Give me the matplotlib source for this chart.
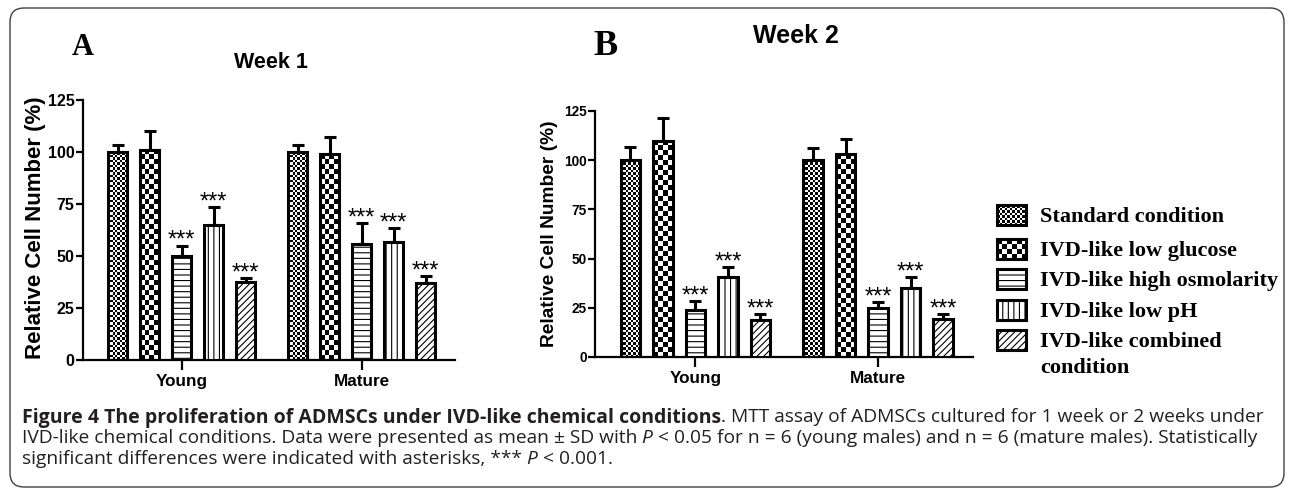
import matplotlib
matplotlib.use('Agg')
import matplotlib.pyplot as plt
import numpy as np
from matplotlib.patches import Rectangle, FancyBboxPatch

# Figure size in pixels
W, H = 1292, 488
DPI = 100

# Values (relative cell number, %), mean and upper SD
groups = ['Young', 'Mature']
conditions = ['Standard condition', 'IVD-like low glucose', 'IVD-like high osmolarity',
              'IVD-like low pH', 'IVD-like combined\ncondition']
week1_young = [100, 101, 50, 65, 37.5]
week1_young_sd = [3.5, 9, 5, 8.5, 2]
week1_mature = [100, 99, 56, 56.5, 37]
week1_mature_sd = [3.5, 8, 10, 7, 3.5]
week2_young = [100, 110, 24, 40.5, 19]
week2_young_sd = [6.5, 11.5, 4.5, 5, 3]
week2_mature = [100, 103, 25, 35, 19.5]
week2_mature_sd = [6, 8, 3, 5.5, 2.5]
significant = [False, False, True, True, True]
yticks = [0, 25, 50, 75, 100, 125]

# Fill of each condition: checker cell size in pixels, or a hatch string
PATTERNS = [('checker', 2.5), ('checker', 5.0), ('hatch', '---'), ('hatch', '|||'), ('hatch', '/////')]

BAR_W = 0.105
PITCH = 0.178
LW = 2.2
SERIF = 'Liberation Serif'

plt.rcParams['font.family'] = 'Liberation Sans'
plt.rcParams['hatch.linewidth'] = 0.8

fig = plt.figure(figsize=(W / DPI, H / DPI), dpi=DPI)


# Helpers to place things using pixel positions measured from the top left
def fx(x):
  return x / W

def fy(y):
  return 1 - y / H

def checker(nrows, ncols):
  return np.indices((nrows, ncols)).sum(axis=0) % 2


def draw_panel(rect, young, young_sd, mature, mature_sd, ytick_size):
  left, top, width, height = rect
  ax = fig.add_axes([fx(left), fy(top + height), width / W, height / H])
  ax.set_xlim(-0.55, 1.52)
  ax.set_ylim(0, 125)

  for k in range(len(conditions)):
    xs = np.arange(len(groups)) + (k - 2) * PITCH
    means = np.array([young[k], mature[k]])
    sds = np.array([young_sd[k], mature_sd[k]])
    kind, style = PATTERNS[k]
    hatch = style if kind == 'hatch' else None
    face = 'white' if kind == 'hatch' else 'none'
    bars = ax.bar(xs, means, BAR_W, facecolor=face, edgecolor='black', linewidth=LW,
                  hatch=hatch, zorder=3)
    ax.errorbar(xs, means, yerr=[np.zeros_like(sds), sds], fmt='none', ecolor='black',
                elinewidth=LW, capsize=4.5, capthick=LW, zorder=2)

    # The checker fills are drawn as small images under the bar outline
    if kind == 'checker':
      for bar in bars:
        x0, y0 = bar.get_x(), bar.get_y()
        x1, y1 = x0 + bar.get_width(), y0 + bar.get_height()
        (p0x, p0y), (p1x, p1y) = ax.transData.transform([(x0, y0), (x1, y1)])
        ncols = max(1, int(round((p1x - p0x) / style)))
        nrows = max(1, int(round((p1y - p0y) / style)))
        ax.imshow(checker(nrows, ncols), cmap='gray', vmin=0, vmax=1,
                  extent=[x0, x1, y0, y1], origin='lower', aspect='auto',
                  interpolation='nearest', zorder=2.5)

    if significant[k]:
      for x, top_value in zip(xs, means + sds):
        ax.annotate('***', (x, top_value), xytext=(0, -1), textcoords='offset points',
                    ha='center', va='baseline', fontsize=17)

  ax.set_xlim(-0.55, 1.52)
  ax.set_ylim(0, 125)
  for side in ['top', 'right']:
    ax.spines[side].set_visible(False)
  for side in ['left', 'bottom']:
    ax.spines[side].set_linewidth(1.6)
  ax.set_yticks(yticks)
  ax.set_yticklabels([str(t) for t in yticks], fontweight='bold', fontsize=ytick_size)
  ax.set_xticks(range(len(groups)))
  ax.set_xticklabels(groups, fontweight='bold', fontsize=12.3)
  ax.tick_params(axis='y', length=5, width=1.6, pad=1)
  ax.tick_params(axis='x', length=7, width=1.6, pad=3)
  return ax


# Panel A (week 1) and panel B (week 2)
draw_panel((83, 100, 372, 260), week1_young, week1_young_sd, week1_mature, week1_mature_sd, 11.5)
draw_panel((595, 111, 378, 246), week2_young, week2_young_sd, week2_mature, week2_mature_sd, 9.8)

fig.text(fx(72), fy(55), 'A', family=SERIF, weight='bold', fontsize=22, va='baseline')
fig.text(fx(593), fy(55), 'B', family=SERIF, weight='bold', fontsize=26, va='baseline')
fig.text(fx(271), fy(68), 'Week 1', weight='bold', fontsize=15.5, ha='center', va='baseline')
fig.text(fx(796), fy(43), 'Week 2', weight='bold', fontsize=18, ha='center', va='baseline')
fig.text(fx(36), fy(228), 'Relative Cell Number (%)', weight='bold', fontsize=16,
         rotation=90, ha='center', va='center')
fig.text(fx(550), fy(234), 'Relative Cell Number (%)', weight='bold', fontsize=13.8,
         rotation=90, ha='center', va='center')

# Legend, drawn by hand so the checker keys match the bars
key_centres = [215, 249, 279, 310, 340]
for k, label in enumerate(conditions):
  kind, style = PATTERNS[k]
  c = key_centres[k]
  if kind == 'checker':
    i, j = np.indices((20, 29))
    cells = (np.floor(i / style) + np.floor(j / style)) % 2
    fig.figimage(cells, xo=997, yo=H - (c + 10), cmap='gray', vmin=0, vmax=1, zorder=4)
    key = Rectangle((fx(997), fy(c + 10)), 29 / W, 20 / H, transform=fig.transFigure,
                    facecolor='none', edgecolor='black', linewidth=LW, zorder=5)
  else:
    key = Rectangle((fx(997), fy(c + 10)), 29 / W, 20 / H, transform=fig.transFigure,
                    facecolor='white', edgecolor='black', linewidth=LW, hatch=style, zorder=5)
  fig.add_artist(key)
  for n, line in enumerate(label.split('\n')):
    fig.text(fx(1040), fy(c + 7 + 26 * n), line, family=SERIF, weight='bold', fontsize=16,
             va='baseline')

# Caption, with bold and italic runs placed one after the other
caption = [
  [('Figure 4 The proliferation of ADMSCs under IVD-like chemical conditions', 'bold', 'normal'),
   ('. MTT assay of ADMSCs cultured for 1 week or 2 weeks under', 'normal', 'normal')],
  [('IVD-like chemical conditions. Data were presented as mean \u00b1 SD with', 'normal', 'normal'),
   (' P', 'normal', 'italic'),
   (' < 0.05 for n = 6 (young males) and n = 6 (mature males). Statistically', 'normal', 'normal')],
  [('significant differences were indicated with asterisks, ***', 'normal', 'normal'),
   (' P', 'normal', 'italic'),
   (' < 0.001.', 'normal', 'normal')],
]
renderer = fig.canvas.get_renderer()
for n, runs in enumerate(caption):
  x = 22
  for text, weight, style in runs:
    size = 14.0 if weight == 'bold' else 13.8
    t = fig.text(fx(x), fy(422.5 + 20.5 * n), text, family='Open Sans', weight=weight,
                 style=style, fontsize=size, va='baseline', color='#231f20')
    x += t.get_window_extent(renderer).width

# Rounded frame around the whole figure
frame = FancyBboxPatch((10 / DPI, 1 / DPI), 1274 / DPI, 479 / DPI,
                       boxstyle='round,pad=0,rounding_size=0.14', transform=fig.dpi_scale_trans,
                       fill=False, edgecolor='#404040', linewidth=1.0)
fig.add_artist(frame)

fig.savefig('out.png', dpi=DPI)
